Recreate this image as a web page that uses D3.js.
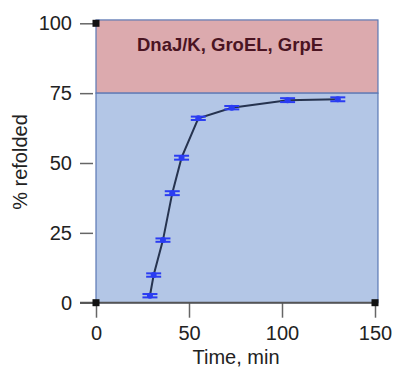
<!DOCTYPE html>
<html><head><meta charset="utf-8">
<script src="https://cdn.jsdelivr.net/npm/d3@7"></script>
<style>body{margin:0;background:#fff;} text{font-family:"Liberation Sans",Arial,sans-serif;}</style>
</head><body>
<svg id="c" width="395" height="368"></svg>
<script>
const times = [29, 31, 36, 41, 46, 55, 73, 103, 130];
const refolded = [2.5, 9.9, 22.4, 39.2, 51.9, 66.0, 69.8, 72.5, 72.8];
const errors = [0.6, 0.6, 0.6, 0.7, 0.7, 0.6, 0.6, 0.7, 0.7];
const xTicks = [0, 50, 100, 150];
const yTicks = [0, 25, 50, 75, 100];
const cornerX = [0, 0, 150];
const cornerY = [0, 100, 0];
const bands = [{from: 75, to: 101.2, color: "#dcaaae"}, {from: 0, to: 75, color: "#b3c6e6"}];
const bandLabel = "DnaJ/K, GroEL, GrpE";

const svg = d3.select("#c");
const x = d3.scaleLinear().domain([0, 150]).range([96, 375]);
const y = d3.scaleLinear().domain([0, 100]).range([302.7, 23.3]);
const xMax = 151.6;

svg.selectAll("rect.band").data(bands).enter().append("rect")
  .attr("x", x(0)).attr("width", x(xMax) - x(0))
  .attr("y", d => y(d.to)).attr("height", d => y(d.from) - y(d.to))
  .attr("fill", d => d.color).attr("stroke", "#5b78b4").attr("stroke-width", 1.2);

svg.append("text").attr("x", 230).attr("y", 51).attr("text-anchor", "middle")
  .attr("font-size", 18.5).attr("font-weight", "bold").attr("fill", "#4a1422").text(bandLabel);

const yAxis = d3.axisLeft(y).tickValues(yTicks).tickSize(13).tickPadding(8);
const gy = svg.append("g").attr("transform", `translate(${x(0) - 3},0)`).call(yAxis);
gy.select(".domain").remove();
gy.selectAll("line").attr("stroke", "#666").attr("stroke-width", 1.5);
gy.selectAll("text").attr("font-size", 20).attr("fill", "#222").attr("font-family", "Liberation Sans, Arial, sans-serif");

const xAxis = d3.axisBottom(x).tickValues(xTicks).tickSize(15).tickPadding(8);
const gx = svg.append("g").attr("transform", `translate(0,${y(0)})`).call(xAxis);
gx.select(".domain").remove();
gx.selectAll("line").attr("stroke", "#666").attr("stroke-width", 1.5);
gx.selectAll("text").attr("font-size", 20).attr("fill", "#222").attr("font-family", "Liberation Sans, Arial, sans-serif");
svg.append("line").attr("x1", 80).attr("x2", x(xMax)).attr("y1", y(0)).attr("y2", y(0))
  .attr("stroke", "#555").attr("stroke-width", 2);

svg.selectAll("rect.corner").data(cornerX.map((v, i) => [v, cornerY[i]])).enter().append("rect")
  .attr("x", d => x(d[0]) - 3.5).attr("y", d => y(d[1]) - 3.5).attr("width", 7).attr("height", 7)
  .attr("fill", "#111");

svg.append("text").attr("x", 236).attr("y", 364).attr("text-anchor", "middle")
  .attr("font-size", 20).attr("fill", "#222").text("Time, min");
svg.append("text").attr("transform", "translate(27,162) rotate(-90)").attr("text-anchor", "middle")
  .attr("font-size", 20).attr("fill", "#222").text("% refolded");

const pts = times.map((t, i) => ({t, v: refolded[i], e: errors[i]}));
svg.append("path").datum(pts)
  .attr("d", d3.line().x(d => x(d.t)).y(d => y(d.v)))
  .attr("fill", "none").attr("stroke", "#26334f").attr("stroke-width", 2);

const m = svg.selectAll("g.pt").data(pts).enter().append("g");
m.append("line").attr("x1", d => x(d.t)).attr("x2", d => x(d.t))
  .attr("y1", d => y(d.v - d.e)).attr("y2", d => y(d.v + d.e)).attr("stroke", "#2a3cf2").attr("stroke-width", 2);
m.append("line").attr("x1", d => x(d.t) - 7.5).attr("x2", d => x(d.t) + 7.5)
  .attr("y1", d => y(d.v + d.e)).attr("y2", d => y(d.v + d.e)).attr("stroke", "#2a3cf2").attr("stroke-width", 2);
m.append("line").attr("x1", d => x(d.t) - 7.5).attr("x2", d => x(d.t) + 7.5)
  .attr("y1", d => y(d.v - d.e)).attr("y2", d => y(d.v - d.e)).attr("stroke", "#2a3cf2").attr("stroke-width", 2);
m.append("circle").attr("cx", d => x(d.t)).attr("cy", d => y(d.v)).attr("r", 3).attr("fill", "#2a3cf2");
</script>
</body></html>
